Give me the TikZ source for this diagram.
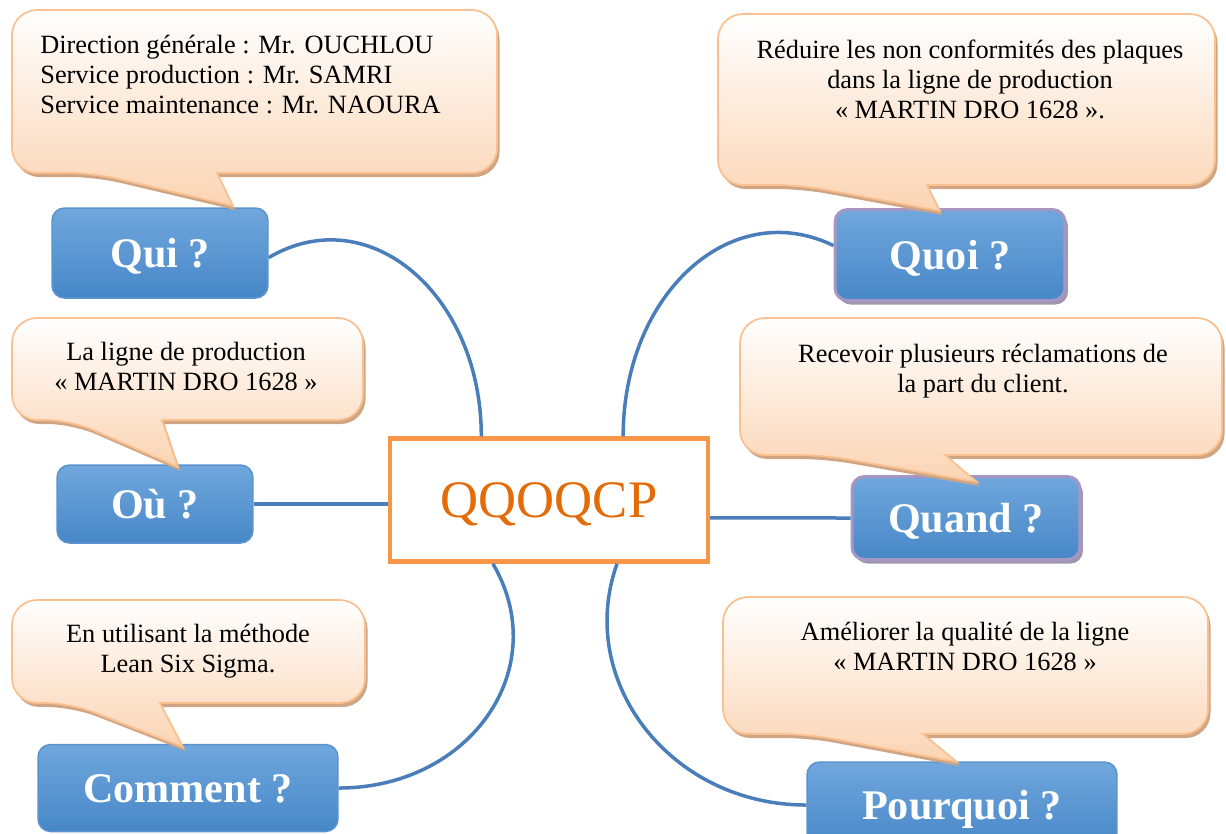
\documentclass[tikz,border=0pt]{standalone}
\usepackage{fontspec}
\setmainfont{Liberation Serif}
\usepackage{tikz}
\usetikzlibrary{calc}
\usetikzlibrary{shadows}
\definecolor{peche}{HTML}{FBD4B3}
\definecolor{bordpeche}{HTML}{FAC08F}
\definecolor{ombrepeche}{HTML}{CFA583}
\definecolor{bleuhaut}{HTML}{70A7DD}
\definecolor{bleubas}{HTML}{4787C7}
\definecolor{bleubord}{HTML}{5B93CF}
\definecolor{lavande}{HTML}{A696C4}
\definecolor{ombregris}{HTML}{9E98AA}
\definecolor{lienbleu}{HTML}{4A7EBB}
\definecolor{orangebord}{HTML}{F79646}
\definecolor{orangetexte}{HTML}{E36C09}

% bulle : x1 y1 x2 y2, base gauche, base droite, pointe x y
\newcommand{\bulle}[8]{%
  \draw[bulle] (#6,#4) [rounded corners=5mm] -- (#3,#4) -- (#3,#2) -- (#1,#2) -- (#1,#4) -- (#5,#4) [sharp corners] -- (#7,#8) -- cycle;}

\begin{document}
\begin{tikzpicture}[x=0.02cm, y=-0.02cm,
    bulle/.style={draw=bordpeche, line width=0.35mm, top color=white, bottom color=peche,
        drop shadow={fill=ombrepeche, opacity=1, shadow xshift=0.5mm, shadow yshift=-0.8mm}},
    texte/.style={font=\fontsize{15}{17}\selectfont, inner sep=0pt, align=center, anchor=north},
    boite/.style={rounded corners=2.5mm, draw=bleubord, line width=0.3mm,
        top color=bleuhaut, bottom color=bleubas, text=white,
        font=\fontsize{24}{28}\selectfont\bfseries,
        inner sep=0pt, text height=5.6mm, text depth=0pt},
    ombrage/.style={draw=lavande, line width=0.6mm,
        drop shadow={fill=ombregris, opacity=1, shadow xshift=0.6mm, shadow yshift=-0.8mm}},
    liaison/.style={draw=lienbleu, line width=0.7mm}]
    \useasboundingbox (0,0) rectangle (1226,833);

    \begin{scope}[every node/.style={boite}]
        \node[minimum width=43.2mm, minimum height=18mm] (qui) at (160,253) {Qui ?};
        \node[minimum width=39.2mm, minimum height=15.6mm] (ou) at (155,504) {Où ?};
        \node[minimum width=60mm, minimum height=17.4mm] (comment) at (188,788) {Comment ?};
        \node[ombrage, minimum width=46mm, minimum height=18.2mm] (quoi) at (950,255) {Quoi ?};
        \node[ombrage, minimum width=45.6mm, minimum height=16.6mm] (quand) at (966,518) {Quand ?};
        \node[minimum width=62mm, minimum height=17.2mm] (pourquoi) at (962,805) {Pourquoi ?};
    \end{scope}

    \node[draw=orangebord, line width=0.9mm, fill=white, text=orangetexte,
        font=\fontsize{30}{36}\selectfont, minimum width=63.6mm, minimum height=24.6mm,
        inner sep=0pt, text height=7mm, text depth=0pt] (qq) at (549,500) {QQOQCP};

    \draw[liaison] ($(qui.north east)!0.55!(qui.south east)$) .. controls +(100,-59) and +(0,-142) .. ($(qq.north west)!0.29!(qq.north east)$);
    \draw[liaison] (ou.east) -- (ou.east -| qq.west);
    \draw[liaison] ($(qq.south west)!0.326!(qq.south east)$) .. controls +(61,104) and +(132,0) .. (comment.east);
    \draw[liaison] ($(qq.north west)!0.73!(qq.north east)$) .. controls +(0,-142) and +(-103,-50) .. ($(quoi.north west)!0.4!(quoi.south west)$);
    \draw[liaison] ($(qq.north east)!0.64!(qq.south east)$) -- (quand.west);
    \draw[liaison] ($(qq.south west)!0.711!(qq.south east)$) .. controls +(-42,117) and +(-136,0) .. (pourquoi.west);

    \bulle{12}{10}{497}{173}{93}{217}{233}{206}
    \bulle{718}{14}{1215}{185}{800}{927}{940}{211}
    \bulle{12}{318}{363}{420}{70}{162}{178}{467}
    \bulle{740}{318}{1222}{455}{823}{945}{977}{482}
    \bulle{12}{600}{365}{703}{70}{160}{183}{747}
    \bulle{723}{597}{1208}{734}{807}{923}{957}{762}

    \node[texte, anchor=north west, align=left] (txtqui) at (40,35) {Direction générale : Mr. OUCHLOU\\ Service production : Mr. SAMRI\\ Service maintenance : Mr. NAOURA};
    \node[texte] (txtquoi) at (970,40) {Réduire les non conformités des plaques\\ dans la ligne de production\\ « MARTIN DRO 1628 ».};
    \node[texte] (txtou) at (186,342) {La ligne de production\\ « MARTIN DRO 1628 »};
    \node[texte] (txtquand) at (983,344) {Recevoir plusieurs réclamations de\\ la part du client.};
    \node[texte] (txtcomment) at (188,624) {En utilisant la méthode\\ Lean Six Sigma.};
    \node[texte] (txtpourquoi) at (965,622) {Améliorer la qualité de la ligne\\ « MARTIN DRO 1628 »};
\end{tikzpicture}
\end{document}
